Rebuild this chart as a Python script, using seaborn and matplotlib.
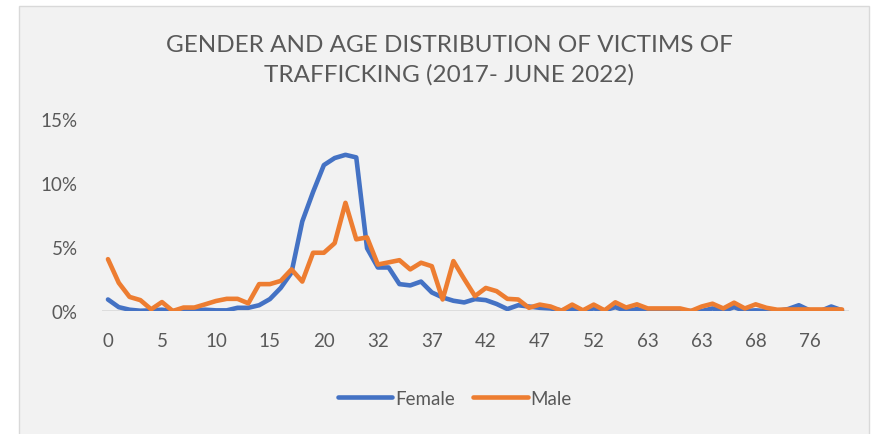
import numpy as np
import pandas as pd
import matplotlib
matplotlib.use("Agg")
import matplotlib.pyplot as plt
from matplotlib.patches import Rectangle
import seaborn as sns

# Share of victims (%) at each age category, by gender
female = [0.90, 0.30, 0.10, 0.02, 0.05, 0.10, 0.00, 0.00, 0.05, 0.10,
          0.05, 0.05, 0.25, 0.25, 0.45, 0.93, 1.80, 3.00, 7.00, 9.30,
          11.40, 11.95, 12.20, 12.00, 4.90, 3.40, 3.40, 2.10, 2.00, 2.30,
          1.45, 1.06, 0.80, 0.67, 0.93, 0.85, 0.55, 0.15, 0.45, 0.35,
          0.25, 0.20, 0.05, 0.15, 0.05, 0.20, 0.05, 0.30, 0.00, 0.15,
          0.00, 0.00, 0.00, 0.00, 0.00, 0.00, 0.20, 0.00, 0.30, 0.00,
          0.05, 0.00, 0.00, 0.15, 0.45, 0.05, 0.00, 0.35, 0.05]
male = [4.05, 2.20, 1.10, 0.85, 0.13, 0.70, 0.00, 0.27, 0.27, 0.52,
        0.78, 0.95, 0.95, 0.60, 2.10, 2.10, 2.35, 3.25, 2.30, 4.55,
        4.55, 5.30, 8.45, 5.60, 5.75, 3.63, 3.80, 3.97, 3.25, 3.77,
        3.50, 0.90, 3.90, 2.50, 1.16, 1.80, 1.55, 0.95, 0.90, 0.25,
        0.50, 0.35, 0.02, 0.50, 0.05, 0.50, 0.05, 0.68, 0.27, 0.52,
        0.20, 0.20, 0.20, 0.20, 0.00, 0.35, 0.57, 0.20, 0.65, 0.20,
        0.52, 0.25, 0.10, 0.12, 0.12, 0.12, 0.12, 0.12, 0.12]
tick_labels = ["0", "5", "10", "15", "20", "32", "37", "42", "47", "52",
               "63", "63", "68", "76"]

n = len(female)
df = pd.DataFrame({
    "pos": np.concatenate([np.arange(n), np.arange(n)]),
    "share": female + male,
    "Gender": ["Female"] * n + ["Male"] * n,
})

sns.set_theme(style="white")
plt.rcParams["font.family"] = ["Lato", "DejaVu Sans"]

W, H = 884, 435
fig = plt.figure(figsize=(W / 100, H / 100), dpi=100)
fig.patch.set_facecolor("white")

# chart panel background with thin border
fig.add_artist(Rectangle((19 / W, -0.01), (869 - 19) / W, (435 - 7) / H + 0.01,
                         transform=fig.transFigure, facecolor="#F2F2F2",
                         edgecolor="#D9D9D9", linewidth=1.0, zorder=0))

ax = fig.add_axes([101.5 / W, (H - 312) / H, 747 / W, 192 / H])
ax.set_facecolor("none")

palette = {"Female": "#4472C4", "Male": "#ED7D31"}
sns.lineplot(data=df, x="pos", y="share", hue="Gender", palette=palette,
             linewidth=3.3, sort=False, ax=ax, solid_capstyle="round",
             solid_joinstyle="round")

ax.set_xlim(-0.6, n - 1 + 0.6)
ax.set_ylim(0, 15)
ax.set_yticks([0, 5, 10, 15])
ax.set_yticklabels(["0%", "5%", "10%", "15%"])
ax.set_xticks(np.arange(0, n, 5))
ax.set_xticklabels(tick_labels)
ax.tick_params(axis="both", length=0, labelsize=13.5, colors="#595959")
ax.tick_params(axis="y", pad=17)
ax.tick_params(axis="x", pad=15)
ax.set_xlabel("")
ax.set_ylabel("")
for s in ax.spines.values():
    s.set_visible(False)
ax.axhline(0, color="#D9D9D9", linewidth=1.2, zorder=0)

sns.move_legend(ax, "center", bbox_to_anchor=(0.473, -0.455), ncol=2,
                frameon=False, title=None, fontsize=13.5, handlelength=2.9,
                handletextpad=0.15, columnspacing=1.0)
for t in ax.get_legend().get_texts():
    t.set_color("#595959")

fig.text(449 / W, 1 - 45 / H, "GENDER AND AGE DISTRIBUTION OF VICTIMS OF",
         ha="center", va="center", fontsize=17.5, color="#595959")
fig.text(449 / W, 1 - 75 / H, "TRAFFICKING (2017- JUNE 2022)",
         ha="center", va="center", fontsize=17.5, color="#595959")

fig.savefig("out.png", dpi=100)
